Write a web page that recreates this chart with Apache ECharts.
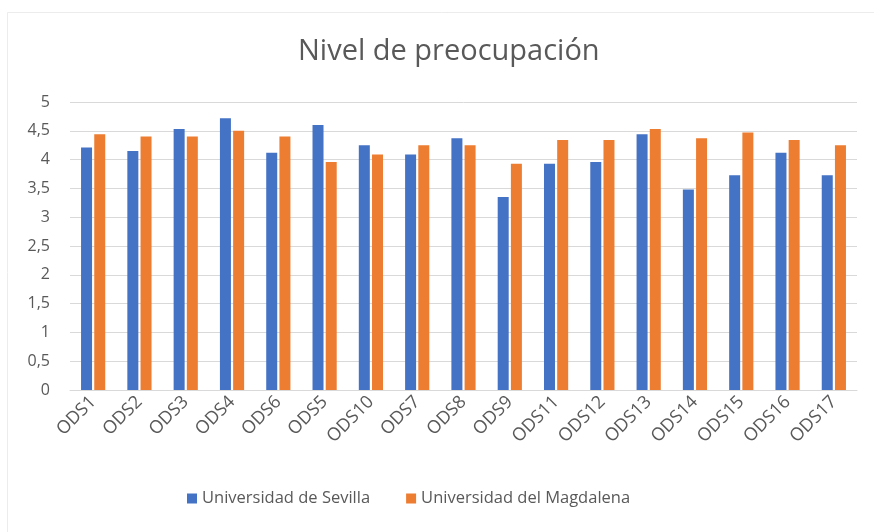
<!DOCTYPE html>
<html>
<head>
<meta charset="utf-8">
<script src="https://cdn.jsdelivr.net/npm/echarts@6/dist/echarts.min.js"></script>
<style>
  html, body { margin: 0; padding: 0; background: #fff; }
  #chart { width: 874px; height: 532px; }
</style>
</head>
<body>
<div id="chart"></div>
<script>
// categorias y valores
const categories = ['ODS1','ODS2','ODS3','ODS4','ODS6','ODS5','ODS10','ODS7','ODS8','ODS9','ODS11','ODS12','ODS13','ODS14','ODS15','ODS16','ODS17'];
const sevilla   = [4.21, 4.15, 4.53, 4.72, 4.12, 4.60, 4.25, 4.09, 4.37, 3.35, 3.93, 3.96, 4.44, 3.48, 3.73, 4.12, 3.73];
const magdalena = [4.44, 4.40, 4.40, 4.50, 4.40, 3.96, 4.09, 4.25, 4.25, 3.93, 4.34, 4.34, 4.53, 4.37, 4.47, 4.34, 4.25];

let myChart = echarts.init(document.getElementById('chart'));
myChart.setOption({
  backgroundColor: '#fff',
  textStyle: { fontFamily: 'Open Sans' },
  graphic: [{
    // marco claro del grafico
    type: 'rect',
    shape: { x: 7.5, y: 12.5, width: 900, height: 600 },
    style: { fill: 'none', stroke: '#ececec', lineWidth: 1 },
    silent: true,
    z: -1
  }],
  title: {
    text: 'Nivel de preocupación',
    left: 293,
    top: 32,
    textStyle: { fontSize: 29, fontWeight: 'normal', color: '#595959' }
  },
  legend: {
    bottom: 20,
    left: 182,
    itemWidth: 10,
    itemHeight: 10,
    itemGap: 36,
    icon: 'rect',
    textStyle: { fontSize: 16.5, color: '#595959' },
    data: ['Universidad de Sevilla', 'Universidad del Magdalena']
  },
  grid: { left: 70, right: 17, top: 102, bottom: 142 },
  xAxis: {
    type: 'category',
    data: categories,
    axisTick: { show: false },
    axisLine: { lineStyle: { color: '#d9d9d9' } },
    axisLabel: { rotate: 45, fontSize: 18, color: '#595959', margin: 9, interval: 0 }
  },
  yAxis: {
    type: 'value',
    min: 0,
    max: 5,
    interval: 0.5,
    axisLine: { show: false },
    axisTick: { show: false },
    splitLine: { lineStyle: { color: '#d9d9d9' } },
    axisLabel: {
      fontSize: 16, color: '#595959', margin: 20,
      formatter: v => String(v).replace('.', ',')
    }
  },
  series: [
    {
      name: 'Universidad de Sevilla',
      type: 'bar',
      data: sevilla,
      barWidth: 11,
      barGap: '20%',
      itemStyle: { color: '#4472C4' }
    },
    {
      name: 'Universidad del Magdalena',
      type: 'bar',
      data: magdalena,
      barWidth: 11,
      itemStyle: { color: '#ED7D31' }
    }
  ]
});
</script>
</body>
</html>
